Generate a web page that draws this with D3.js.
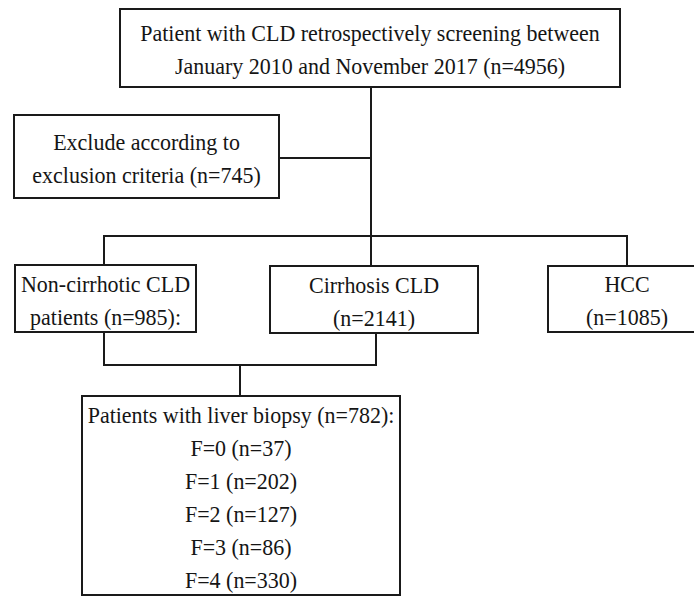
<!DOCTYPE html>
<html>
<head>
<meta charset="utf-8">
<script src="https://cdn.jsdelivr.net/npm/d3@7"></script>
<style>
  body { margin: 0; background: #fff; }
  svg text { font-family: "Liberation Serif", "Times New Roman", serif; fill: #151515; }
</style>
</head>
<body>
<svg id="chart" width="694" height="596"></svg>
<script>
// flow counts
const screenedCount = 4956;
const excludedCount = 745;
const groupNames = ["Non-cirrhotic CLD", "Cirrhosis CLD", "HCC"];
const groupCounts = [985, 2141, 1085];
const biopsyCount = 782;
const fibrosisStages = ["F=0", "F=1", "F=2", "F=3", "F=4"];
const fibrosisCounts = [37, 202, 127, 86, 330];

// box layout (pixels), kept apart from the data
const layout = {
  screen:  { x0: 120, x1: 620, y0: 9,   y1: 87 },
  exclude: { x0: 14,  x1: 279, y0: 115, y1: 198 },
  noncirr: { x0: 15,  x1: 196, y0: 265, y1: 332 },
  cirr:    { x0: 270, x1: 478, y0: 266, y1: 333 },
  hcc:     { x0: 548, x1: 706, y0: 266, y1: 332 },
  biopsy:  { x0: 82,  x1: 400, y0: 396, y1: 595 }
};

const lineGap = 33;
const fontSize = 22;
const stretch = 1.08; // the figure's text is a bit taller than plain Times

const nodes = [
  { id: "screen", lines: ["Patient with CLD retrospectively screening between",
                          `January 2010 and November 2017 (n=${screenedCount})`] },
  { id: "exclude", lines: ["Exclude according to", `exclusion criteria (n=${excludedCount})`] },
  { id: "noncirr", lines: [groupNames[0], `patients (n=${groupCounts[0]}):`] },
  { id: "cirr", lines: [groupNames[1], `(n=${groupCounts[1]})`] },
  { id: "hcc", lines: [groupNames[2], `(n=${groupCounts[2]})`] },
  { id: "biopsy", lines: [`Patients with liver biopsy (n=${biopsyCount}):`]
      .concat(fibrosisStages.map((s, i) => `${s} (n=${fibrosisCounts[i]})`)) }
];

const svg = d3.select("#chart");
const ink = "#1a1a1a";

const cx = b => (b.x0 + b.x1) / 2;
const L = layout;

// connector positions
const trunkX = 371;
const excludeY = 158;
const branchY = 236;
const mergeY = 365;
const biopsyX = 240;
const noncirrX = 104;
const cirrX = 376;
const hccX = 627;

const connectors = [
  [[trunkX, L.screen.y1], [trunkX, L.cirr.y0]],
  [[L.exclude.x1, excludeY], [trunkX, excludeY]],
  [[noncirrX, branchY], [hccX, branchY]],
  [[noncirrX, branchY], [noncirrX, L.noncirr.y0]],
  [[hccX, branchY], [hccX, L.hcc.y0]],
  [[noncirrX, L.noncirr.y1], [noncirrX, mergeY]],
  [[cirrX, L.cirr.y1], [cirrX, mergeY]],
  [[noncirrX, mergeY], [cirrX, mergeY]],
  [[biopsyX, mergeY], [biopsyX, L.biopsy.y0]]
];

const line = d3.line();

svg.append("g")
  .selectAll("path")
  .data(connectors)
  .join("path")
  .attr("d", d => line(d))
  .attr("fill", "none")
  .attr("stroke", ink)
  .attr("stroke-width", 2)
  .attr("stroke-linecap", "square");

const boxes = svg.append("g")
  .selectAll("g")
  .data(nodes)
  .join("g");

boxes.append("rect")
  .attr("x", d => L[d.id].x0)
  .attr("y", d => L[d.id].y0)
  .attr("width", d => L[d.id].x1 - L[d.id].x0)
  .attr("height", d => L[d.id].y1 - L[d.id].y0)
  .attr("fill", "#fff")
  .attr("stroke", ink)
  .attr("stroke-width", 2);

boxes.each(function(d) {
  const b = L[d.id];
  const cy = (b.y0 + b.y1) / 2;
  const n = d.lines.length;
  d3.select(this).selectAll("text")
    .data(d.lines)
    .join("text")
    .attr("transform", (t, i) =>
      `translate(${cx(b)},${cy + (i - (n - 1) / 2) * lineGap + 9.5}) scale(1,${stretch})`)
    .attr("text-anchor", "middle")
    .attr("font-size", fontSize)
    .text(t => t);
});
</script>
</body>
</html>
